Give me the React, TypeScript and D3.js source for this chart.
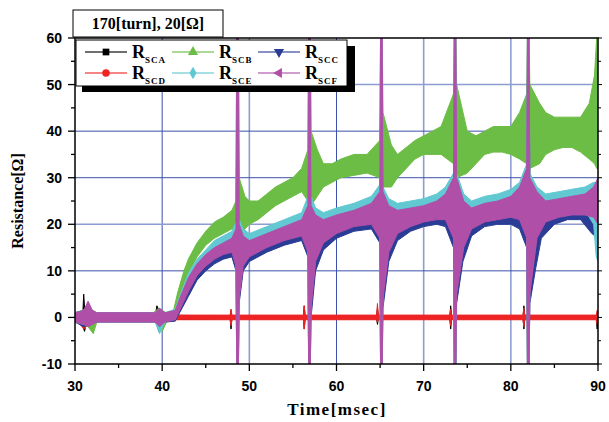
import React from 'react';
import * as d3 from 'd3';

// each row: [time (ms), low, high]
const seriesSCA: [number, number, number][] = [
  [30, -0.5, 0.5], [30.9, -1, 1], [31.0, -2.5, 5], [31.1, -3, 2], [31.3, -1, 1], [32, -0.5, 0.5],
  [39.2, -0.5, 0.5], [39.4, -1, 2.5], [39.6, -3, 1.5], [39.8, -0.5, 0.5],
  [47.8, -0.3, 0.3], [47.9, -2.5, 1.5], [48, -0.3, 0.3],
  [56.2, -0.3, 0.3], [56.3, -2.5, 2.5], [56.4, -0.3, 0.3],
  [64.6, -0.3, 0.3], [64.7, -1.5, 2], [64.8, -0.3, 0.3],
  [73.0, -0.3, 0.3], [73.1, -2.5, 2.5], [73.2, -0.3, 0.3],
  [81.4, -0.3, 0.3], [81.5, -2.5, 2.5], [81.6, -0.3, 0.3],
  [89.8, -0.3, 0.3], [89.9, -2.5, 1], [90, -0.3, 0.3],
];

const seriesSCB: [number, number, number][] = [
  [30, -1, 1], [30.8, -1.5, 1.5], [31.5, -2, 2], [32.1, -3.5, 1.5], [32.5, -1, 1], [39, -1, 1],
  [39.6, -1.5, 2], [40, -3, 1.5], [40.5, -1, 1], [41.3, -0.5, 1.5], [41.8, 2.5, 5.5],
  [42.5, 6.5, 10], [43, 9.5, 12.5], [44, 13, 16], [45, 15.5, 18.5], [46, 17, 20.5],
  [47, 18, 21.5], [48, 19, 23], [48.47, 19, 25], [48.55, -10, 60], [48.75, -10, 60],
  [48.83, 17, 30], [49.5, 19, 26], [50, 20, 25], [51, 21, 25], [52, 22.5, 26.5], [53, 24, 28],
  [54, 25, 29], [55, 26, 30], [56, 27, 32], [56.72, 25, 36], [56.8, -10, 60], [57.0, -10, 60],
  [57.08, 24, 40], [57.8, 26, 36], [58.5, 28, 33], [59.5, 29, 33], [60.5, 30, 34], [62, 30.5, 35],
  [63.5, 31, 35], [64.97, 30, 38], [65.05, -10, 60], [65.25, -10, 60], [65.33, 28, 44],
  [66.3, 28, 37], [67, 30, 35], [68, 32, 36.5], [69, 34, 38], [70, 35, 39], [71, 35, 40],
  [72, 35, 41], [73.42, 33, 48], [73.5, -10, 60], [73.7, -10, 60], [73.78, 30, 50], [75, 31, 40],
  [76, 33, 39], [77, 35, 40], [78, 35.5, 41], [79, 35.5, 41], [80, 35, 41], [81, 34, 44],
  [81.82, 33, 48], [81.9, -10, 60], [82.1, -10, 60], [82.18, 32, 50], [83.3, 33, 46], [84, 35, 44],
  [85, 36, 43], [86, 36.5, 43], [87, 36.5, 43], [88, 35.5, 43], [89, 34, 46], [89.6, 33, 52],
  [89.85, 32, 60], [90, 32, 48],
];

const seriesSCC: [number, number, number][] = [
  [30, -1, 1], [31, -2, 1.5], [31.6, -1.5, 2], [32.2, -1, 1], [39.2, -1, 1], [39.7, -2, 1.5],
  [40.3, -1, 1], [41.5, -0.8, 1.2], [42, 1, 3.5], [43, 4.5, 8], [44, 8, 11], [45, 10, 13],
  [46, 11.5, 14.5], [47, 12.5, 15.5], [48, 13, 16.5], [48.47, 10, 18], [48.55, -10, 40],
  [48.75, -10, 40], [48.83, 3, 19], [49.3, 10, 17], [50, 12, 16], [52, 14, 17.5], [54, 15.5, 19],
  [56, 16.5, 20.5], [56.72, 13, 23], [56.8, -10, 35], [57.0, -10, 35], [57.08, 0, 22],
  [57.6, 10, 21], [58.5, 14.5, 20.5], [60, 17, 21.5], [62, 18.5, 22.5], [64, 19, 24],
  [64.97, 16, 26], [65.05, -10, 45], [65.25, -10, 45], [65.33, 2, 26], [66, 12, 23],
  [67, 16.5, 22.5], [68.5, 18.5, 23], [70, 19.5, 23.5], [71.5, 20, 24.5], [72.5, 19.5, 26],
  [73.42, 15, 29], [73.5, -10, 50], [73.7, -10, 50], [73.78, 3, 29], [74.5, 12, 24],
  [75.5, 17.5, 23], [77, 19.5, 24], [78.5, 20, 24.5], [80, 20, 25.5], [81, 19, 27],
  [81.82, 15, 31], [81.9, -10, 50], [82.1, -10, 50], [82.18, 3, 29], [82.8, 10, 26],
  [83.5, 17, 25], [85, 20, 25], [86.5, 21, 25.5], [88, 21, 26], [89.3, 18, 27], [90, 17, 29],
];

const seriesSCD: [number, number, number][] = [
  [30, -1, 1], [30.5, -1.2, 1.2], [31, -2.5, 1.2], [31.3, -2, 1.5], [31.8, -1, 1], [33, -0.6, 0.6],
  [39, -0.6, 0.6], [39.5, -1.5, 1], [40, -1, 1.5], [40.5, -0.6, 0.6], [41.5, -0.5, 0.5],
  [47.8, -0.5, 0.5], [47.9, -1.8, 1.8], [48.0, -0.5, 0.5],
  [56.2, -0.5, 0.5], [56.3, -2.5, 2.5], [56.4, -0.5, 0.5],
  [64.6, -0.5, 0.5], [64.7, -1, 3], [64.8, -0.5, 0.5],
  [73.0, -0.5, 0.5], [73.1, -1.8, 1.8], [73.2, -0.5, 0.5],
  [81.4, -0.5, 0.5], [81.5, -2, 2], [81.6, -0.5, 0.5],
  [89.8, -0.5, 0.5], [89.9, -1.5, 1.5], [90, -0.5, 0.5],
];

const seriesSCE: [number, number, number][] = [
  [30, -1, 1], [31, -1.5, 1.5], [31.6, -1.5, 1.5], [32.2, -1, 1], [39.2, -1, 1], [39.7, -3.5, 1.5],
  [40.3, -1, 1], [41.5, -0.3, 1.8], [42, 2, 4.5], [43, 6.5, 9.5], [44, 10, 12.5], [45, 12, 14.5],
  [46, 13.5, 16.5], [47, 14.5, 17.5], [48, 15, 18.5], [48.47, 12, 20.5], [48.55, -10, 60],
  [48.75, -10, 60], [48.83, 5, 21], [49.3, 12, 19], [50, 14, 18], [52, 16, 19.5], [54, 17.5, 21],
  [56, 18.5, 22.5], [56.72, 15, 26], [56.8, -10, 60], [57.0, -10, 60], [57.08, 3, 26],
  [57.6, 13, 23.5], [58.5, 17, 22.5], [60, 19, 23.5], [62, 20.5, 24.5], [64, 21, 26],
  [64.97, 18, 28.5], [65.05, -10, 60], [65.25, -10, 60], [65.33, 5, 28], [66, 15, 25.5],
  [67, 19, 24.5], [68.5, 20.5, 25], [70, 21.5, 25.5], [71.5, 22, 26.5], [72.5, 22, 28],
  [73.42, 18, 31], [73.5, -10, 60], [73.7, -10, 60], [73.78, 6, 31], [74.6, 16, 26.5],
  [75.5, 20, 25], [77, 21.5, 26], [78.5, 22, 26.5], [80, 22.5, 27.5], [81, 22, 29],
  [81.82, 18, 33], [81.9, -10, 60], [82.1, -10, 60], [82.18, 6, 31], [83, 18, 28],
  [84, 21.5, 26.5], [85.5, 22.5, 27], [87, 23, 27.5], [88.5, 23, 28], [89.5, 20, 29],
  [89.8, 13, 29], [90, 12, 30],
];

const seriesSCF: [number, number, number][] = [
  [30, -1, 1], [31, -1.5, 1.5], [31.5, -2, 3.5], [32, -1.5, 1.5], [32.5, -1, 1], [39.2, -1, 1],
  [39.7, -2, 2], [40.3, -1, 1], [41.5, -0.5, 1.5], [42, 1.5, 4], [43, 5.5, 8.5], [44, 9, 11.5],
  [45, 11, 13.5], [46, 12.5, 15], [47, 13.5, 16], [48, 14, 17], [48.47, 11, 19], [48.55, -10, 60],
  [48.75, -10, 60], [48.83, 4, 20], [49.3, 11, 17.5], [50, 13, 16.5], [52, 15, 18], [54, 16.5, 19.5],
  [56, 17.5, 21], [56.72, 14, 24], [56.8, -10, 60], [57.0, -10, 60], [57.08, 2, 24],
  [57.6, 12, 22], [58.5, 16, 21], [60, 18, 22], [62, 19.5, 23], [64, 20, 24.5], [64.97, 17, 27],
  [65.05, -10, 60], [65.25, -10, 60], [65.33, 4, 27], [66, 14, 24], [67, 18, 23],
  [68.5, 19.5, 23.5], [70, 20.5, 24], [71.5, 21, 25], [72.5, 21, 26.5], [73.42, 17, 30],
  [73.5, -10, 60], [73.7, -10, 60], [73.78, 5, 30], [74.6, 15, 25], [75.5, 19, 23.5],
  [77, 20.5, 24.5], [78.5, 21, 25], [80, 21.5, 26], [81, 21, 28], [81.82, 17, 32],
  [81.9, -10, 60], [82.1, -10, 60], [82.18, 5, 30], [83, 17, 27], [84, 20.5, 25],
  [85.5, 21.5, 25.5], [87, 22, 26], [88.5, 22, 26.5], [89.5, 21.5, 28], [90, 20, 30],
];

const legendNames = ['SCA', 'SCB', 'SCC', 'SCD', 'SCE', 'SCF'];
const xTicks = [30, 40, 50, 60, 70, 80, 90];
const yTicks = [-10, 0, 10, 20, 30, 40, 50, 60];

const colors: Record<string, string> = {
  SCA: '#000000',
  SCB: '#6cbd45',
  SCC: '#2a3c96',
  SCD: '#ee2424',
  SCE: '#62c8d2',
  SCF: '#b04fa8',
};
const symbols: Record<string, [d3.SymbolType, number]> = {
  SCA: [d3.symbolSquare, 0],
  SCB: [d3.symbolTriangle, 0],
  SCC: [d3.symbolTriangle, 180],
  SCD: [d3.symbolCircle, 0],
  SCE: [d3.symbolDiamond, 0],
  SCF: [d3.symbolTriangle, -90],
};

const W = 609;
const H = 422;
const L = 75, R = 598, T = 38, B = 364;
const serif = '"Liberation Serif", "DejaVu Serif", serif';
const sans = '"Liberation Sans", Arial, sans-serif';

export default function App() {
  const x = d3.scaleLinear().domain([30, 90]).range([L, R]);
  const y = d3.scaleLinear().domain([-10, 60]).range([B, T]);

  const area = d3
    .area<[number, number, number]>()
    .x(d => x(d[0]))
    .y0(d => y(d[1]))
    .y1(d => y(d[2]));

  // drawing order: black under red, magenta on top of everything
  const layers: [string, [number, number, number][]][] = [
    ['SCA', seriesSCA],
    ['SCD', seriesSCD],
    ['SCB', seriesSCB],
    ['SCC', seriesSCC],
    ['SCE', seriesSCE],
    ['SCF', seriesSCF],
  ];

  const lightX = [50, 70, 80];
  const lightY = [50, 20];
  const minorX = d3.range(35, 90, 10);
  const minorY = d3.range(-5, 60, 10);

  const legX = [85, 172, 258];
  const legY = [52, 73];

  return (
    <svg width={W} height={H} style={{ position: 'absolute', left: 0, top: 0, background: '#fff' }}>
      <defs>
        <clipPath id="plot">
          <rect x={L} y={T} width={R - L} height={B - T} />
        </clipPath>
      </defs>
      <rect x={0} y={0} width={W} height={H} fill="#fff" />

      {/* grid */}
      {xTicks.slice(1, -1).map(t => (
        <line key={'gx' + t} x1={x(t)} x2={x(t)} y1={T} y2={B}
          stroke={lightX.includes(t) ? '#8e9dd0' : '#3b51aa'} strokeWidth={lightX.includes(t) ? 1.6 : 1} />
      ))}
      {yTicks.slice(2, -1).map(t => (
        <line key={'gy' + t} x1={L} x2={R} y1={y(t)} y2={y(t)}
          stroke={lightY.includes(t) ? '#8e9dd0' : '#3b51aa'} strokeWidth={lightY.includes(t) ? 1.6 : 1} />
      ))}

      {/* traces */}
      <g clipPath="url(#plot)">
        {layers.map(([name, data]) => (
          <path key={name} d={area(data) || ''} fill={colors[name]} stroke={colors[name]}
            strokeWidth={1} strokeLinejoin="round" />
        ))}
      </g>

      {/* frame */}
      <rect x={L} y={T} width={R - L} height={B - T} fill="none" stroke="#000" strokeWidth={1.5} />

      {/* x ticks */}
      {xTicks.map(t => (
        <g key={'xt' + t}>
          <line x1={x(t)} x2={x(t)} y1={B} y2={B + 7} stroke="#000" strokeWidth={1.3} />
          <text x={x(t)} y={391} textAnchor="middle" fontFamily={sans} fontWeight="bold" fontSize={14}>{t}</text>
        </g>
      ))}
      {minorX.map(t => (
        <line key={'xm' + t} x1={x(t)} x2={x(t)} y1={B} y2={B + 4} stroke="#000" strokeWidth={1.3} />
      ))}

      {/* y ticks */}
      {yTicks.map(t => (
        <g key={'yt' + t}>
          <line x1={L - 7} x2={L} y1={y(t)} y2={y(t)} stroke="#000" strokeWidth={1.3} />
          <line x1={R} x2={R + 4} y1={y(t)} y2={y(t)} stroke="#000" strokeWidth={1} />
          <text x={62} y={y(t) + 5} textAnchor="end" fontFamily={sans} fontWeight="bold" fontSize={14}>{t}</text>
        </g>
      ))}
      {minorY.map(t => (
        <g key={'ym' + t}>
          <line x1={L - 4} x2={L} y1={y(t)} y2={y(t)} stroke="#000" strokeWidth={1.3} />
          <line x1={R} x2={R + 3} y1={y(t)} y2={y(t)} stroke="#000" strokeWidth={1} />
        </g>
      ))}

      {/* axis titles */}
      <text x={337} y={415} textAnchor="middle" fontFamily={serif} fontWeight="bold" fontSize={17}
        letterSpacing={1.5}>Time[msec]</text>
      <text transform={`translate(23,${(T + B) / 2}) rotate(-90)`} textAnchor="middle" fontFamily={serif}
        fontWeight="bold" fontSize={16}>Resistance[Ω]</text>

      {/* title box */}
      <rect x={73} y={10} width={150} height={27} fill="#fff" stroke="#000" strokeWidth={1} />
      <text x={148} y={29} textAnchor="middle" fontFamily={serif} fontWeight="bold" fontSize={16}>170[turn], 20[Ω]</text>

      {/* legend */}
      <rect x={82} y={46} width={273} height={46} fill="#000" />
      <rect x={76} y={40} width={271} height={46} fill="#fff" stroke="#000" strokeWidth={1} />
      {legendNames.map((name, i) => {
        const cx = legX[i % 3];
        const cy = legY[Math.floor(i / 3)];
        const [sym, rot] = symbols[name];
        return (
          <g key={'lg' + name}>
            <line x1={cx} x2={cx + 42} y1={cy} y2={cy} stroke={colors[name]} strokeWidth={1.5} opacity={0.75} />
            <path d={d3.symbol(sym, 45)() || ''} transform={`translate(${cx + 21},${cy}) rotate(${rot})`}
              fill={colors[name]} />
            <text x={cx + 47} y={cy + 6} fontFamily={serif} fontWeight="bold" fontSize={18}>R</text>
            <text x={cx + 60} y={cy + 11} fontFamily={serif} fontWeight="bold" fontSize={9} letterSpacing={1}>{name}</text>
          </g>
        );
      })}
    </svg>
  );
}
